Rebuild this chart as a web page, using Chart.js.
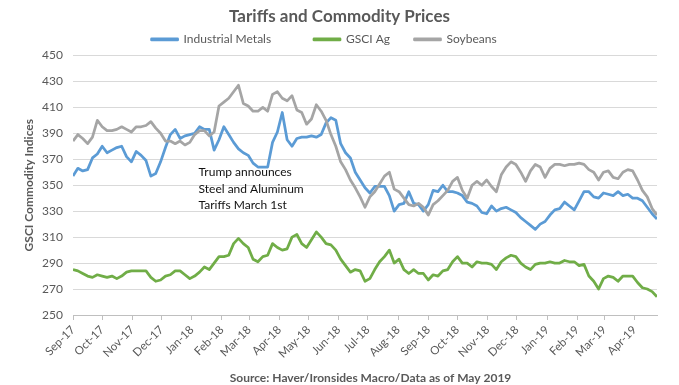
<!DOCTYPE html>
<html>
<head>
<meta charset="utf-8">
<script src="https://cdn.jsdelivr.net/npm/chart.js@4.4.1/dist/chart.umd.min.js"></script>
<style>
  html, body { margin: 0; padding: 0; background: #fff; }
</style>
</head>
<body>
<canvas id="chart" width="679" height="385"></canvas>
<script>
// month ticks: days since 1 Sep 2017
const monthDays = [0, 30, 61, 91, 122, 153, 181, 212, 242, 273, 303, 334, 365, 395, 426, 456, 487, 518, 546, 577];
const monthLabels = ['Sep-17', 'Oct-17', 'Nov-17', 'Dec-17', 'Jan-18', 'Feb-18', 'Mar-18', 'Apr-18', 'May-18', 'Jun-18',
  'Jul-18', 'Aug-18', 'Sep-18', 'Oct-18', 'Nov-18', 'Dec-18', 'Jan-19', 'Feb-19', 'Mar-19', 'Apr-19'];

// values read every 5 days
const metals = [
  357, 363, 361, 362, 371, 374, 380, 375, 377, 379,
  380, 372, 368, 376, 373, 369, 357, 359, 368, 379,
  389, 393, 386, 388, 389, 390, 395, 393, 393, 377,
  385, 395, 389, 383, 378, 375, 373, 367, 364, 364,
  364, 383, 391, 406, 385, 380, 386, 387, 387, 388,
  387, 389, 398, 402, 400, 382, 375, 371, 360, 354,
  348, 344, 349, 349, 349, 342, 330, 335, 336, 345,
  336, 335, 330, 335, 346, 345, 350, 345, 345, 344,
  342, 337, 336, 334, 329, 328, 334, 330, 332, 333,
  331, 329, 325, 322, 319, 316, 320, 322, 327, 331,
  332, 337, 334, 331, 338, 345, 345, 341, 340, 344,
  343, 342, 345, 342, 343, 340, 340, 338, 333, 328,
  324
];
const gsciAg = [
  285, 284, 282, 280, 279, 281, 280, 279, 280, 278,
  280, 283, 284, 284, 284, 284, 279, 276, 277, 280,
  281, 284, 284, 281, 278, 280, 283, 287, 285, 290,
  295, 295, 296, 305, 309, 305, 302, 293, 291, 295,
  296, 305, 302, 300, 301, 310, 312, 305, 302, 308,
  314, 310, 305, 304, 300, 293, 288, 283, 285, 284,
  276, 278, 285, 291, 295, 300, 290, 293, 285, 282,
  285, 282, 282, 277, 281, 280, 284, 285, 291, 295,
  290, 290, 287, 291, 290, 290, 289, 285, 291, 294,
  296, 295, 290, 287, 285, 289, 290, 290, 291, 290,
  290, 292, 291, 291, 288, 289, 280, 276, 270, 278,
  280, 279, 276, 280, 280, 280, 275, 271, 270, 268,
  264
];
const soybeans = [
  384, 389, 386, 382, 387, 400, 395, 392, 392, 393,
  395, 393, 391, 395, 395, 396, 399, 394, 390, 384,
  384, 382, 384, 381, 383, 389, 392, 392, 388, 391,
  411, 414, 417, 422, 427, 413, 411, 407, 407, 410,
  407, 420, 422, 417, 415, 419, 408, 406, 397, 401,
  412, 407, 400, 389, 380, 368, 362, 354, 348, 341,
  333, 341, 345, 351, 357, 360, 347, 345, 340, 335,
  334, 336, 333, 327, 335, 338, 342, 346, 353, 356,
  346, 340, 350, 353, 350, 354, 349, 345, 358, 364,
  368, 366, 360, 353, 361, 366, 364, 356, 363, 366,
  366, 365, 366, 366, 367, 366, 362, 360, 354, 360,
  361, 356, 355, 360, 362, 361, 354, 346, 341, 332,
  327
];
const days = metals.map((_, i) => i * 5);

const noteLines = ['Trump announces', 'Steel and Aluminum', 'Tariffs March 1st'];
const sourceText = 'Source: Haver/Ironsides Macro/Data as of May 2019';
const legendGaps = [38, 19, 31]; // extra px after each legend entry

const grey = '#595959';

function points(values) {
  return values.map((v, i) => ({ x: days[i], y: v }));
}

// trailing spaces to widen a legend entry by roughly px
function padTo(px) {
  const m = document.createElement('canvas').getContext('2d');
  m.font = '12px Lato';
  let s = '';
  while (m.measureText(s + ' ').width <= px) s += ' ';
  return s;
}

// annotation and source line
const textPlugin = {
  id: 'texts',
  afterDatasetsDraw(chart) {
    const { ctx, scales } = chart;
    const x0 = scales.x.getPixelForValue(129);
    const y0 = scales.y.getPixelForValue(360);
    ctx.save();
    ctx.font = '12px Lato';
    ctx.fillStyle = '#111';
    ctx.textBaseline = 'middle';
    noteLines.forEach((t, i) => ctx.fillText(t, x0, y0 + i * 16.5));
    ctx.font = 'bold 12px Lato';
    ctx.fillStyle = grey;
    ctx.textAlign = 'center';
    ctx.fillText(sourceText, chart.width / 2 + 31, chart.height - 7);
    ctx.restore();
  }
};

let ctx = document.getElementById('chart').getContext('2d');
let chart = new Chart(ctx, {
  type: 'line',
  data: {
    datasets: [
      { label: 'Industrial Metals', data: points(metals), borderColor: '#5B9BD5', backgroundColor: '#5B9BD5', order: 2 },
      { label: 'GSCI Ag', data: points(gsciAg), borderColor: '#70AD47', backgroundColor: '#70AD47', order: 1 },
      { label: 'Soybeans', data: points(soybeans), borderColor: '#A5A5A5', backgroundColor: '#A5A5A5', order: 0 }
    ]
  },
  options: {
    responsive: false,
    animation: false,
    layout: { padding: { left: 0, right: 0, top: 0, bottom: 16 } },
    elements: {
      line: { borderWidth: 2.75, tension: 0, borderJoinStyle: 'round' },
      point: { radius: 0 }
    },
    plugins: {
      title: {
        display: true,
        text: 'Tariffs and Commodity Prices',
        color: grey,
        font: { family: 'Lato', size: 17, weight: 'bold' },
        padding: { top: 6, bottom: 1 }
      },
      legend: {
        labels: {
          boxWidth: 26,
          boxHeight: 1,
          padding: 6,
          color: grey,
          font: { family: 'Lato', size: 12 },
          generateLabels: c => Chart.defaults.plugins.legend.labels.generateLabels(c)
            .sort((a, b) => a.datasetIndex - b.datasetIndex)
            .map((item, i) => Object.assign(item, { text: item.text + padTo(legendGaps[i]) }))
        }
      },
      tooltip: { enabled: false }
    },
    scales: {
      x: {
        type: 'linear',
        min: 0,
        max: 600,
        afterBuildTicks: s => { s.ticks = monthDays.map(v => ({ value: v })); },
        afterFit: s => { s.height = 54; },
        ticks: {
          autoSkip: false,
          maxRotation: 45,
          minRotation: 45,
          color: grey,
          font: { family: 'Lato', size: 11.5 },
          callback: v => monthLabels[monthDays.indexOf(v)]
        },
        grid: { drawOnChartArea: false, color: '#BFBFBF', tickLength: 5 },
        border: { color: '#BFBFBF' }
      },
      y: {
        min: 250,
        max: 450,
        afterFit: s => { s.width = 73; },
        ticks: { stepSize: 20, color: grey, font: { family: 'Lato', size: 12 }, padding: 10 },
        grid: { color: '#D9D9D9', drawTicks: false },
        border: { display: false },
        title: {
          display: true,
          text: 'GSCI Commodity Indices',
          color: grey,
          font: { family: 'Lato', size: 12, weight: 'bold' },
          padding: { top: 22, bottom: 0 }
        }
      },
      // empty right margin so the title centres on the whole canvas
      yRight: {
        position: 'right',
        min: 250,
        max: 450,
        afterFit: s => { s.width = 22; },
        ticks: { display: false },
        grid: { display: false },
        border: { display: false }
      }
    }
  },
  plugins: [textPlugin]
});
</script>
</body>
</html>
